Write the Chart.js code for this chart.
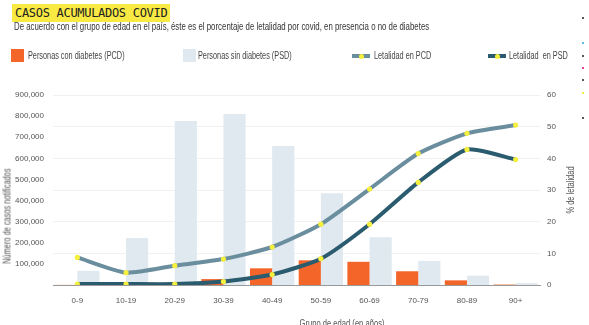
<!DOCTYPE html>
<html>
<head>
<meta charset="utf-8">
<script src="https://cdn.jsdelivr.net/npm/chart.js@4.4.0/dist/chart.umd.min.js"></script>
<style>
  html, body { margin:0; padding:0; background:#fff; }
  #wrap { position:relative; width:589px; height:325px; overflow:hidden; font-family:"Liberation Sans",Arial,sans-serif; color:#333; }
  #c { position:absolute; left:0; top:0; }
  .abs { position:absolute; white-space:nowrap; }
  #title { left:12px; top:4px; width:158px; height:18px; background:#f9ea43; font-family:"DejaVu Sans Mono",monospace; font-size:12px; line-height:18px; padding-left:3px; box-sizing:border-box; color:#222; letter-spacing:-0.3px; }
  #sub { left:14px; top:21px; font-size:10.2px; line-height:12px; color:#333; transform:scaleX(0.77); transform-origin:0 0; }
  .leg { font-size:10px; line-height:12px; color:#444; transform:scaleX(0.73); transform-origin:0 0; }
  .sq { position:absolute; width:13px; height:13px; }
  .ln { position:absolute; width:18px; height:4px; }
  .ln i { position:absolute; left:6.5px; top:-0.5px; width:5px; height:5px; border-radius:50%; background:#f5ef3d; }
  .dot { position:absolute; width:2px; height:2px; border-radius:50%; }
  .axt { font-size:10px; color:#555; }
</style>
</head>
<body>
<div id="wrap">
  <canvas id="c" width="589" height="325"></canvas>
  <div id="title" class="abs">CASOS ACUMULADOS COVID</div>
  <div id="sub" class="abs">De acuerdo con el grupo de edad en el país, éste es el porcentaje de letalidad por covid, en presencia o no de diabetes</div>

  <div class="sq" style="left:11px;top:49px;background:#f4652a"></div>
  <div class="abs leg" style="left:28px;top:50px">Personas con diabetes (PCD)</div>
  <div class="sq" style="left:183px;top:49px;background:#dfe9ef"></div>
  <div class="abs leg" style="left:198px;top:50px">Personas sin diabetes (PSD)</div>
  <div class="ln" style="left:352px;top:54px;background:#6b8e9f"><i></i></div>
  <div class="abs leg" style="left:374px;top:50px">Letalidad en PCD</div>
  <div class="ln" style="left:488px;top:54px;background:#2b5b6e"><i></i></div>
  <div class="abs leg" style="left:509px;top:50px">Letalidad&nbsp; en PSD</div>

  <div class="abs axt" style="left:7px;top:216px;transform:translate(-50%,-50%) rotate(-90deg) scaleX(0.74)">Número de casos notificados</div>
  <div class="abs axt" style="left:570px;top:190px;transform:translate(-50%,-50%) rotate(-90deg) scaleX(0.75)">% de letalidad</div>
  <div class="abs axt" style="left:342px;top:318px;transform:translateX(-50%) scaleX(0.76)">Grupo de edad (en años)</div>

  <div class="dot" style="left:582px;top:17px;background:#222"></div>
  <div class="dot" style="left:582px;top:42px;background:#29a8e0"></div>
  <div class="dot" style="left:582px;top:55px;background:#222"></div>
  <div class="dot" style="left:582px;top:67px;background:#e6007e"></div>
  <div class="dot" style="left:582px;top:79px;background:#222"></div>
  <div class="dot" style="left:582px;top:92px;background:#f2e600"></div>
  <div class="dot" style="left:582px;top:117px;background:#222"></div>
</div>
<script>
const categories = ['0-9','10-19','20-29','30-39','40-49','50-59','60-69','70-79','80-89','90+'];
const casosPCD = [500, 1500, 3000, 28000, 79000, 117000, 110000, 65000, 22000, 2000];
const casosPSD = [67000, 223000, 777000, 810000, 658000, 435000, 226000, 114000, 44000, 9000];
const letalidadPCD = [8.7, 3.9, 6.1, 8.2, 12.0, 19.2, 30.3, 41.5, 47.9, 50.5];
const letalidadPSD = [0.3, 0.3, 0.3, 1.1, 3.3, 8.3, 19.2, 32.4, 42.8, 39.6];
const leftTicks = [0,100000,200000,300000,400000,500000,600000,700000,800000,900000];
const rightTicks = [0,10,20,30,40,50,60];

const tickFont = { family: '"Liberation Sans",Arial,sans-serif', size: 8 };

new Chart(document.getElementById('c'), {
  data: {
    labels: categories,
    datasets: [
      { type:'line', label:'Letalidad en PCD', data: letalidadPCD, yAxisID:'y1', order:0,
        borderColor:'#6b8e9f', borderWidth:4, tension:0.2, pointRadius:2.6, pointBackgroundColor:'#f5ef3d', pointBorderWidth:0, fill:false },
      { type:'line', label:'Letalidad en PSD', data: letalidadPSD, yAxisID:'y1', order:0,
        borderColor:'#2b5b6e', borderWidth:4, tension:0.2, pointRadius:2.6, pointBackgroundColor:'#f5ef3d', pointBorderWidth:0, fill:false },
      { type:'bar', label:'Personas con diabetes (PCD)', data: casosPCD, yAxisID:'y', order:1,
        backgroundColor:'#f4652a', categoryPercentage:0.91, barPercentage:1.0 },
      { type:'bar', label:'Personas sin diabetes (PSD)', data: casosPSD, yAxisID:'y', order:1,
        backgroundColor:'#dfe9ef', categoryPercentage:0.91, barPercentage:1.0 }
    ]
  },
  options: {
    responsive:false, animation:false, devicePixelRatio:1,
    layout: { padding: { top:95, left:0, right:0, bottom:0 } },
    plugins: { legend:{ display:false }, title:{ display:false }, tooltip:{ enabled:false } },
    scales: {
      x: {
        grid:{ display:false, drawTicks:false }, border:{ color:'#999', width:1 },
        ticks:{ color:'#555', font:tickFont, padding:11, maxRotation:0, autoSkip:false },
        afterFit: s => { s.height = 40; }
      },
      y: {
        position:'left', min:0, max:900000,
        afterBuildTicks: s => { s.ticks = leftTicks.map(v => ({ value:v })); },
        grid:{ display:false, drawTicks:false }, border:{ display:false },
        ticks:{ color:'#555', font:tickFont, padding:9, callback: v => v === 0 ? '' : v.toLocaleString('en-US') },
        afterFit: s => { s.width = 53; }
      },
      y1: {
        position:'right', min:0, max:60,
        afterBuildTicks: s => { s.ticks = rightTicks.map(v => ({ value:v })); },
        grid:{ color:'#f1f1f1', drawTicks:false, lineWidth:1 }, border:{ display:false },
        ticks:{ color:'#555', font:tickFont, padding:7 },
        afterFit: s => { s.width = 49; }
      }
    }
  }
});
</script>
</body>
</html>
